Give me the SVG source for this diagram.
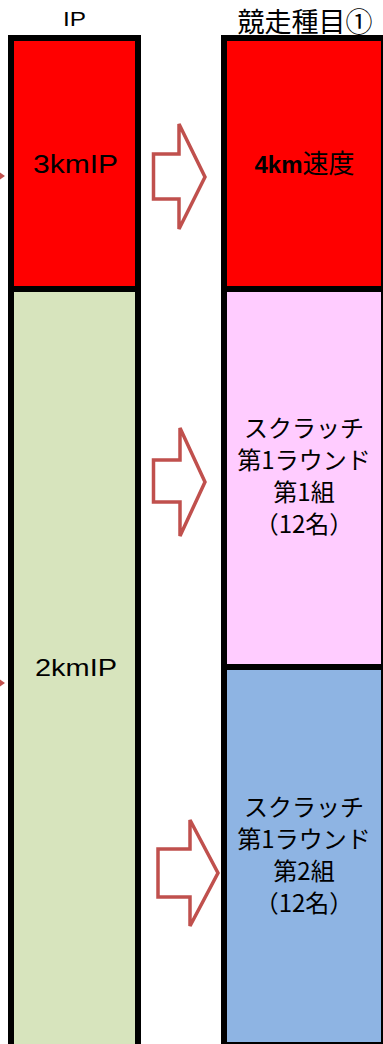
<svg xmlns="http://www.w3.org/2000/svg" width="383" height="1044" viewBox="0 0 383 1044">
<style>
.frame{fill:#000}
.red{fill:#ff0000}
.green{fill:#d7e4bd}
.pink{fill:#ffccff}
.blue{fill:#8eb4e3}
.arrow{fill:#fff;stroke:#c0504d;stroke-width:3.5;stroke-linejoin:miter}
.t{font-family:"Noto Sans CJK JP","Liberation Sans",sans-serif;fill:#000;text-anchor:middle}
.lat{font-family:"Liberation Sans","Noto Sans CJK JP",sans-serif;fill:#000;text-anchor:middle}
</style>
<rect width="383" height="1044" fill="#fff"/>
<g id="header-ip"><text class="lat" x="74.5" y="26" font-size="21" textLength="23" lengthAdjust="spacingAndGlyphs">IP</text></g>
<g id="header-event"><text class="t" x="305" y="32" font-size="27">競走種目①</text></g>
<g id="ip-column">
<rect class="frame" x="8" y="35" width="133" height="1015"/>
<g id="ip-3km"><rect class="red" x="14" y="41" width="121" height="245"/>
<text class="lat" x="75.5" y="173" font-size="25" textLength="85" lengthAdjust="spacingAndGlyphs">3kmIP</text></g>
<g id="ip-2km"><rect class="green" x="14" y="292" width="121" height="760"/>
<text class="lat" x="76" y="676" font-size="24" textLength="82" lengthAdjust="spacingAndGlyphs">2kmIP</text></g>
</g>
<g id="event-column">
<rect class="frame" x="221" y="35" width="170" height="1009"/>
<g id="event-4km"><rect class="red" x="227" y="41" width="154" height="245"/>
<text class="t" x="304.5" y="173"><tspan font-family="Liberation Sans" font-weight="bold" font-size="24">4km</tspan><tspan font-size="26">速度</tspan></text></g>
<g id="event-scratch1"><rect class="pink" x="227" y="292" width="154" height="372"/>
<text class="t" font-size="24"><tspan x="304" y="437">スクラッチ</tspan><tspan x="304" y="469">第1ラウンド</tspan><tspan x="304" y="501">第1組</tspan><tspan x="304" y="533">（12名）</tspan></text></g>
<g id="event-scratch2"><rect class="blue" x="227" y="670" width="154" height="372"/>
<text class="t" font-size="24"><tspan x="304" y="816">スクラッチ</tspan><tspan x="304" y="848">第1ラウンド</tspan><tspan x="304" y="880">第2組</tspan><tspan x="304" y="912">（12名）</tspan></text></g>
</g>
<g id="connectors">
<polyline points="-20,160 2,176 -20,192" fill="none" stroke="#c0504d" stroke-width="3.5"/>
<polyline points="-20,667 2,683 -20,699" fill="none" stroke="#c0504d" stroke-width="3.5"/>
<polygon class="arrow" points="153.5,154 179,154 179,124 205,177 179,229 179,199 153.5,199"/>
<polygon class="arrow" points="153.5,460 180,460 180,428 205,482 180,536 180,502 153.5,502"/>
<polygon class="arrow" points="158,849 190,849 190,820 218,873 190,926 190,897 158,897"/>
</g>
</svg>
